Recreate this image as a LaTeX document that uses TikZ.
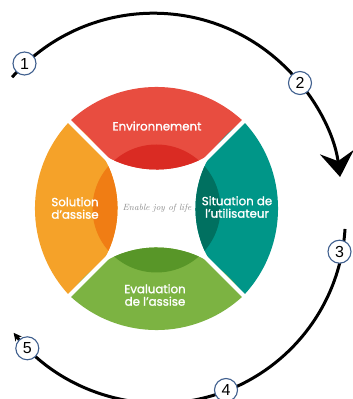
\documentclass[tikz,border=0pt]{standalone}
\usepackage{fontspec}
\newfontfamily\lblfont{Poppins}[FakeBold=1.3]
\newfontfamily\numfont{Liberation Sans}
\usetikzlibrary{arrows.meta}
\definecolor{redL}{HTML}{E84D40}
\definecolor{redD}{HTML}{DA2B23}
\definecolor{orangeL}{HTML}{F5A229}
\definecolor{orangeD}{HTML}{F07D14}
\definecolor{tealL}{HTML}{009688}
\definecolor{tealD}{HTML}{007060}
\definecolor{greenL}{HTML}{7CB342}
\definecolor{greenD}{HTML}{589628}
\definecolor{numblue}{HTML}{3F5F8E}
\tikzset{
  lbl/.style={text=white, align=center, font=\lblfont\fontsize{11.8}{12.5}\selectfont},
  num/.style={circle, draw=numblue, fill=white, line width=1.1pt, minimum size=23pt, inner sep=0pt, font=\numfont\fontsize{16}{16}\selectfont},
  cyc/.style={draw=black, line width=3pt},
}
\begin{document}
\begin{tikzpicture}[x=1pt,y=1pt]
\useasboundingbox (0,0) rectangle (353,399);
\fill[white] (0,0) rectangle (353,399);
\coordinate (C) at (156.5,190.5);
% lenses
\foreach \r/\c/\d in {-90/redL/redD, 0/orangeL/orangeD, 180/tealL/tealD, 90/greenL/greenD}{
  \begin{scope}[shift={(C)}, rotate=\r]
    \fill[\c] (-87,87) arc[start angle=136.7,end angle=223.3,radius=126.9pt] arc[start angle=-57.8,end angle=57.8,radius=102.8pt] -- cycle;
    \begin{scope}
      \clip (-87,87) arc[start angle=136.7,end angle=223.3,radius=126.9pt] arc[start angle=-57.8,end angle=57.8,radius=102.8pt] -- cycle;
      \fill[\d] (0,0) circle[radius=64pt];
    \end{scope}
  \end{scope}
}
\foreach \a in {45,135,225,315}{
  \draw[white, line width=4pt] (C) -- ++(\a:140pt);
}
% labels
\node[lbl] (env) at (157,273) {Environnement};
\node[lbl] (sol) at (75,191) {Solution\\d’assise};
\node[lbl] (sit) at (237,192) {Situation de\\l’utilisateur};
\node[lbl] (eva) at (155,104) {Evaluation\\de l’assise};
\node[text=black!45, font=\itshape\fontsize{9}{9}\selectfont] (joy) at (157,191) {Enable joy of life};
% cycle arcs
\coordinate (uc) at (153.5,197.6);
\coordinate (lc) at (159.4,181.7);
\draw[cyc, -{Stealth[length=25pt,width=34pt,inset=9pt]}] (uc) ++(138.7:188.2pt) coordinate (us) arc[start angle=138.7,end angle=7.45,radius=188.2pt] coordinate (ue);
\draw[cyc, -{Stealth[length=8pt,width=8pt]}] (lc) ++(-3.6:186pt) coordinate (ls) arc[start angle=-3.6,end angle=-141.6,radius=186pt] coordinate (le);
% numbers
\node[num] (n1) at (24.5,335.5) {1};
\node[num] (n2) at (300,316) {2};
\node[num] (n3) at (339.5,147.3) {3};
\node[num] (n4) at (226,9) {4};
\node[num] (n5) at (27.3,50.7) {5};
\end{tikzpicture}
\end{document}
